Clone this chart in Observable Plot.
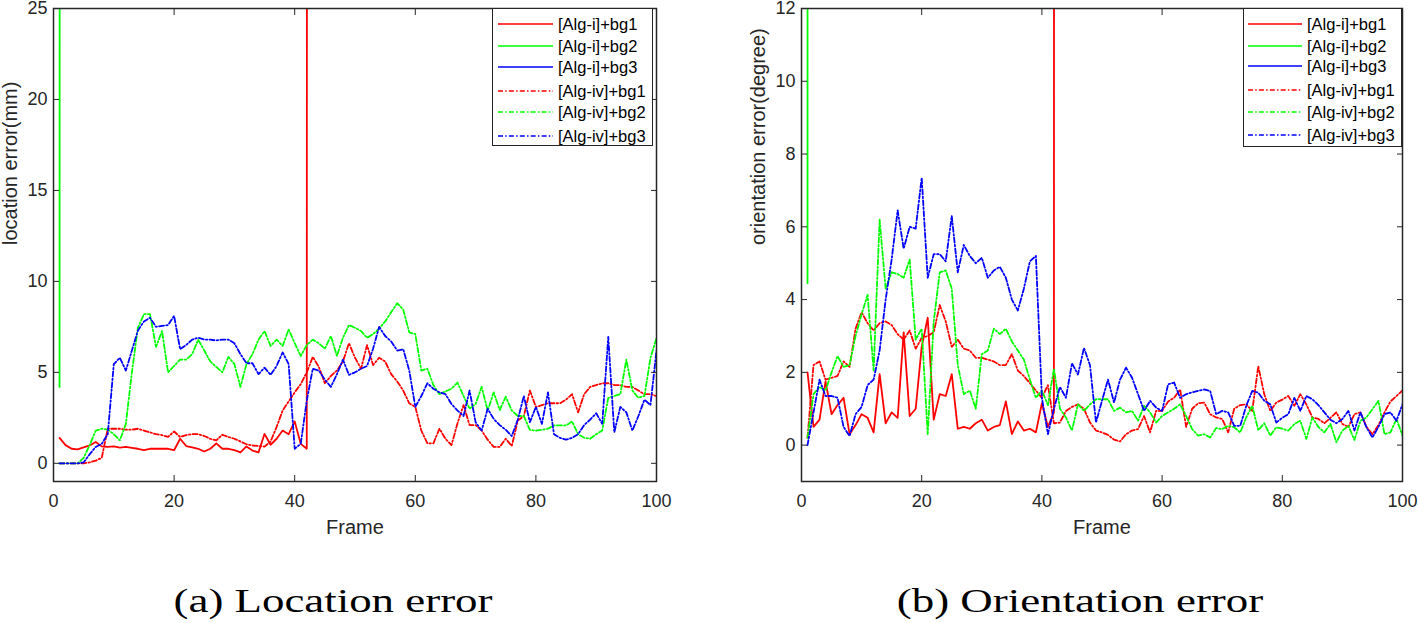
<!DOCTYPE html>
<html><head><meta charset="utf-8">
<script src="https://cdn.jsdelivr.net/npm/d3@7"></script>
<script src="https://cdn.jsdelivr.net/npm/@observablehq/plot@0.6"></script>
<style>
body{margin:0;background:#fff;}
#wrap{position:relative;width:1418px;height:623px;overflow:hidden;font-family:"Liberation Sans",Arial,sans-serif;background:#fff;}
.panel{position:absolute;top:0;}
.legend{position:absolute;background:#fff;border:1.5px solid #262626;box-sizing:border-box;font-size:16.5px;color:#000;}
.legend .row{position:absolute;left:0;height:22px;display:flex;align-items:center;white-space:nowrap;}
.legend svg{display:block;}
.caption{position:absolute;top:584px;font-family:"Liberation Serif",serif;font-size:34px;line-height:34px;white-space:nowrap;transform:translateX(-50%) scaleX(1.32);color:#000;}
</style></head><body><div id="wrap"></div><script>
// ---------- data ----------
const seriesNames = ["[Alg-i]+bg1","[Alg-i]+bg2","[Alg-i]+bg3","[Alg-iv]+bg1","[Alg-iv]+bg2","[Alg-iv]+bg3"];
const seriesColors = ["#ff0000","#00ff00","#0000ff","#ff0000","#00ff00","#0000ff"];
const seriesDashed = [false,false,false,true,true,true];
const xTicks = [0,20,40,60,80,100];
const locTicks = [0,5,10,15,20,25];
const oriTicks = [0,2,4,6,8,10,12];
const captions = ["(a) Location error","(b) Orientation error"];
const yLabels = ["location error(mm)","orientation error(degree)"];
const xLabel = "Frame";

// location error (mm), frames 1..; 1000 = tracking lost (off the chart)
const locIbg1 = [1.4,1.0,0.8,0.77,0.88,0.98,1.17,0.93,0.9,0.93,
  0.86,0.9,0.85,0.8,0.72,0.8,0.8,0.8,0.8,0.72,
  1.35,0.95,0.88,0.8,0.65,0.8,1.1,0.8,0.8,0.72,
  0.6,0.93,0.7,0.6,1.62,1.02,1.35,1.8,1.6,2.3,
  1.07,0.8,1000];
const locIbg2 = [4.2,1000];
const locIbg3 = [1000,1000];
const locIVbg1 = [0,0,0,0,0,0.05,0.15,0.3,1.9,1.9,
  1.9,1.85,1.85,1.9,1.8,1.7,1.6,1.55,1.45,1.75,
  1.45,1.55,1.6,1.6,1.5,1.35,1.26,1.57,1.45,1.35,
  1.2,1.05,0.98,0.95,0.92,1.2,2.0,2.9,3.4,3.9,
  4.35,5.0,5.85,5.3,4.4,4.8,5.1,5.6,6.6,5.8,
  5.2,6.5,5.4,5.8,5.6,4.9,4.5,4.0,3.3,3.1,
  1.8,1.1,1.1,1.9,1.35,1.0,2.2,3.2,2.1,2.1,
  1.8,1.3,0.9,0.9,1.35,0.95,2.35,2.6,4.0,3.1,
  3.2,3.3,3.3,3.3,3.5,3.8,2.8,3.8,4.2,4.3,
  4.4,4.4,4.3,4.3,4.2,4.2,4.0,3.8,3.8,3.7];
const locIVbg2 = [0,0,0,0,0.3,1.0,1.8,1.9,1.85,1.6,
  1.26,2.17,5.0,7.45,8.2,8.2,6.4,7.27,5.0,5.35,
  5.7,5.7,6.0,6.8,6.2,5.6,5.3,5.0,5.85,5.45,
  4.2,5.45,6.0,6.8,7.27,6.45,6.8,6.45,7.36,6.6,
  5.9,6.5,6.8,6.6,6.3,7.0,5.9,6.9,7.6,7.45,
  7.27,6.9,7.1,7.4,7.8,8.3,8.8,8.45,7.2,7.1,
  5.1,5.2,4.3,3.8,3.95,4.1,4.44,3.7,3.0,3.26,
  4.2,2.9,3.9,2.93,3.66,2.9,2.6,2.6,1.84,1.8,
  1.84,1.9,2.08,2.08,2.08,2.3,1.6,1.4,1.35,1.6,
  1.8,3.6,3.7,3.8,5.7,4.0,3.6,3.7,5.8,6.9];
const locIVbg3 = [0,0,0,0,0.05,0.5,0.9,1.07,1.6,5.45,
  5.8,5.1,6.2,7.3,7.8,8.0,7.5,7.55,7.6,8.1,
  6.27,6.5,6.8,6.9,6.8,6.8,6.75,6.8,6.8,6.6,
  6.0,5.5,5.5,4.9,5.26,4.86,5.35,6.1,5.45,0.8,
  1.07,3.44,5.2,5.1,4.6,4.2,4.9,5.7,4.86,5.0,
  5.2,5.35,6.3,7.5,7.0,6.7,6.2,6.27,5.1,3.1,
  3.7,4.4,4.1,3.9,3.8,3.26,2.9,2.6,4.0,2.26,
  1.8,3.0,2.44,2.1,1.84,1.5,2.4,3.7,2.26,3.1,
  2.17,3.9,1.6,1.4,1.3,1.4,1.6,2.1,2.4,2.75,
  2.17,6.95,1.7,3.1,2.8,1.8,2.6,3.5,3.2,6.2];

// orientation error (degree)
const oriIbg1 = [2.0,0.5,0.7,1.75,0.85,1.1,1.3,0.3,0.55,0.85,
  0.75,0.35,1.95,0.6,0.9,0.75,3.1,0.8,1.0,2.7,
  3.5,0.7,1.4,1.35,1.95,0.45,0.5,0.45,0.6,0.7,
  0.4,0.5,0.55,1.2,0.3,0.65,0.4,0.45,0.35,1.15,
  0.5,0.9,1000];
const oriIbg2 = [4.45,1000];
const oriIbg3 = [1000,1000];
const oriIVbg1 = [0.2,2.2,2.3,1.8,1.85,1.9,2.3,2.15,3.2,3.65,
  3.35,3.15,3.35,3.4,3.3,3.05,2.9,3.15,2.65,2.95,
  3.0,3.1,3.85,3.4,2.7,2.9,2.65,2.6,2.4,2.4,
  2.35,2.3,2.2,2.2,2.5,2.05,1.9,1.7,1.5,1.3,
  1.65,0.6,0.62,0.94,1.05,1.12,1.0,0.62,0.4,0.35,
  0.28,0.15,0.1,0.3,0.4,0.44,0.8,0.35,0.94,0.94,
  1.2,1.3,1.53,0.5,1.0,1.15,1.17,0.85,0.76,0.72,
  0.35,1.0,1.1,1.12,0.94,2.17,1.4,0.94,1.17,1.25,
  1.35,1.08,1.4,1.12,0.76,0.72,0.6,0.75,0.9,0.58,
  0.5,0.85,0.9,0.5,0.3,0.55,0.9,1.2,1.35,1.5];
const oriIVbg2 = [0.2,1.4,1.6,1.5,2.0,2.45,2.15,2.2,3.0,3.6,
  4.13,2.05,6.2,4.3,4.75,4.7,4.6,5.1,2.9,3.2,
  0.3,3.4,4.75,4.8,4.3,2.2,1.4,1.5,1.0,2.5,
  2.6,3.2,3.05,3.2,2.85,2.6,2.35,1.8,1.3,1.5,
  1.1,2.1,1.0,0.76,0.4,1.12,0.94,1.12,1.26,1.26,
  1.26,0.94,1.03,0.9,0.94,0.67,1.08,0.9,0.62,0.8,
  0.9,1.0,1.12,0.8,0.44,0.26,0.3,0.21,0.47,0.44,
  0.53,0.49,0.35,0.76,1.08,0.41,0.6,0.26,0.49,0.45,
  0.4,0.58,0.67,0.17,0.76,0.5,0.35,0.58,0.08,0.4,
  0.53,0.14,0.67,0.76,0.99,1.22,0.3,0.35,0.72,0.26];
const oriIVbg3 = [0,0.9,1.8,1.35,1.35,1.3,0.5,0.25,0.85,1.05,
  1.65,1.8,2.6,4.0,5.1,6.45,5.4,6.0,5.95,7.35,
  4.6,5.25,5.25,5.05,6.3,4.75,5.5,5.2,5.0,5.15,
  4.6,4.8,4.9,4.6,4.0,3.7,4.3,5.05,5.2,1.3,
  0.3,1.0,1.6,1.3,2.25,1.94,2.67,2.2,0.62,1.22,
  1.8,1.17,1.8,2.13,1.85,1.4,0.94,1.22,1.03,0.94,
  1.67,1.72,1.3,1.4,1.45,1.49,1.53,1.49,0.85,0.94,
  0.9,0.53,0.53,1.08,1.49,1.44,1.22,1.12,0.62,0.75,
  0.85,1.3,0.94,1.35,1.26,1.1,0.9,0.7,0.6,0.72,
  0.94,0.4,0.9,0.49,0.21,0.5,0.85,0.9,0.67,1.12];

// ---------- drawing ----------
const DASH = "5,2.2,1.5,2.2";
const AXC = "#262626";
function rows(vals){ return vals.map((v,i)=>({frame:i+1, value:v})); }

function panel({values, yDomain, yTicks, yLabel, width, marginLeft, marginRight}){
  const marks = values.map((vals,k)=>Plot.line(rows(vals), {
    x:"frame", y:"value", stroke: seriesColors[k], strokeWidth: 1.8,
    strokeDasharray: seriesDashed[k] ? DASH : null, clip: true
  }));
  marks.push(
    Plot.axisX({anchor:"bottom", ticks: xTicks, tickSize:-6, tickPadding:19, stroke: AXC, fill:"#262626", fontSize:18, label:null}),
    Plot.axisX({anchor:"top", ticks: xTicks, tickSize:-6, tickFormat:()=>"", label:null, stroke: AXC}),
    Plot.axisY({anchor:"left", ticks: yTicks, tickSize:-6, tickPadding:12, stroke: AXC, fill:"#262626", fontSize:18, label:null}),
    Plot.axisY({anchor:"right", ticks: yTicks, tickSize:-6, tickFormat:()=>"", label:null, stroke: AXC}),
    Plot.text([xLabel], {frameAnchor:"bottom", dy:52, fontSize:20, fill:"#262626"}),
    Plot.text([yLabel], {frameAnchor:"left", rotate:-90, dx:-43, fontSize:20, fill:"#262626"}),
    Plot.frame({stroke: AXC, strokeWidth: 1.5})
  );
  return Plot.plot({
    width, height: 545, marginTop: 8, marginBottom: 64, marginLeft, marginRight,
    x: {domain:[0,100]}, y: {domain: yDomain},
    style: {fontFamily:'"Liberation Sans", Arial, sans-serif', fontSize:"18px", color:"#262626", background:"#fff", overflow:"visible"},
    marks
  });
}

function legend(left, top, w, h, sampleX0, sampleX1, textX, rowYs){
  const div = document.createElement("div");
  div.className = "legend";
  Object.assign(div.style, {left: left+"px", top: top+"px", width: w+"px", height: h+"px"});
  seriesNames.forEach((name,k)=>{
    const r = document.createElement("div");
    r.className = "row";
    r.style.top = (rowYs[k]-11)+"px";
    r.innerHTML = `<svg width="${textX}" height="22"><line x1="${sampleX0}" x2="${sampleX1}" y1="11" y2="11" stroke="${seriesColors[k]}" stroke-width="1.6" ${seriesDashed[k]?`stroke-dasharray="${DASH}"`:""}/></svg><span>${name}</span>`;
    div.appendChild(r);
  });
  return div;
}

const wrap = document.getElementById("wrap");
const left = panel({values:[locIbg1,locIbg2,locIbg3,locIVbg1,locIVbg2,locIVbg3], yDomain:[-1,25], yTicks: locTicks, yLabel: yLabels[0], width:709, marginLeft:53, marginRight:53});
left.classList.add("panel"); left.style.left = "0px";
wrap.appendChild(left);
const right = panel({values:[oriIbg1,oriIbg2,oriIbg3,oriIVbg1,oriIVbg2,oriIVbg3], yDomain:[-1,12], yTicks: oriTicks, yLabel: yLabels[1], width:709, marginLeft:92, marginRight:16});
right.classList.add("panel"); right.style.left = "709px";
wrap.appendChild(right);

wrap.appendChild(legend(492, 8, 161, 138, 5, 60, 65, [15,37,58,82,103,127]));
wrap.appendChild(legend(1243, 8, 159, 139, 4, 58, 63, [15,37,57,81,103,126]));

[[captions[0],333],[captions[1],1080]].forEach(([t,x])=>{
  const c = document.createElement("div");
  c.className = "caption"; c.textContent = t; c.style.left = x+"px";
  wrap.appendChild(c);
});
</script></body></html>
